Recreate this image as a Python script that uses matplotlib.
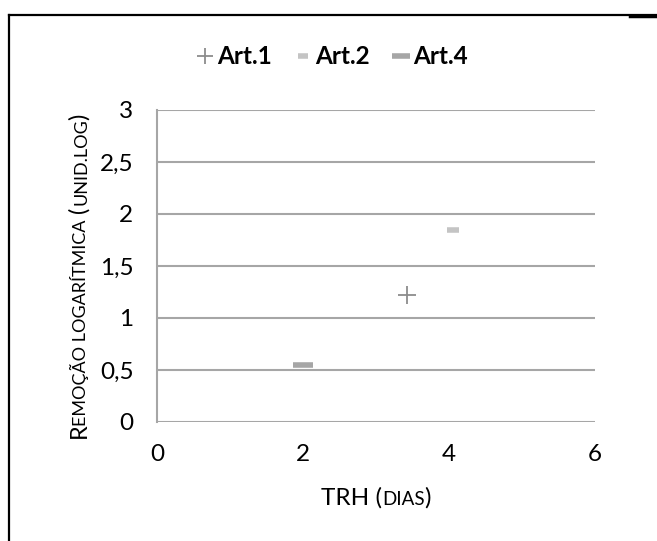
import matplotlib
matplotlib.use("Agg")
import numpy as np
import matplotlib.pyplot as plt
from matplotlib.lines import Line2D
from matplotlib import font_manager
from matplotlib.ft2font import FT2Font

plt.rcParams['font.family'] = ['Lato', 'DejaVu Sans']

series = ["Art.1", "Art.2", "Art.4"]
x_vals = [[3.42], [4.05], [2.0]]
y_vals = [[1.22], [1.85], [0.55]]
x_ticks = [0, 2, 4, 6]
y_ticks = [0, 0.5, 1, 1.5, 2, 2.5, 3]
y_tick_labels = ["0", "0,5", "1", "1,5", "2", "2,5", "3"]

W, H = 657, 541
DPI = 100

# --- helpers for small-caps style labels -------------------------------
font_path = font_manager.findfont(font_manager.FontProperties(family='Lato'))
ft = FT2Font(font_path)

def advance(txt, size):
    ft.set_size(size, DPI)
    total = 0.0
    for c in txt:
        g = ft.load_char(ord(c))
        total += g.linearHoriAdvance / 65536.0
    return total

def ink_start(txt, size, rot):
    """offset (px) of first ink along the writing direction from the anchor"""
    f = plt.figure(figsize=(4, 4), dpi=DPI)
    f.text(0.5, 0.5, txt, fontsize=size, ha='left', va='baseline',
           rotation=rot, rotation_mode='anchor')
    f.canvas.draw()
    a = np.asarray(f.canvas.buffer_rgba())[:, :, 0]
    ys, xs = np.where(a < 160)
    plt.close(f)
    if rot == 0:
        return xs.min() - 200
    return 200 - ys.max()

# -----------------------------------------------------------------------
fig = plt.figure(figsize=(W / DPI, H / DPI), dpi=DPI)
ax = fig.add_axes([157 / W, 1 - 422 / H, (595 - 157) / W, (422 - 110) / H])

grid_c = "#a6a6a6"
ax.set_xlim(0, 6)
ax.set_ylim(0, 3)
ax.set_xticks(x_ticks)
ax.set_yticks(y_ticks)
ax.set_yticklabels(y_tick_labels)
ax.tick_params(length=0, labelsize=17.5)
ax.tick_params(axis='y', pad=17)
ax.tick_params(axis='x', pad=16)
for s in ["top", "right", "bottom"]:
    ax.spines[s].set_visible(False)
ax.spines["left"].set_color(grid_c)
ax.spines["left"].set_linewidth(1.5)
ax.yaxis.grid(True, color=grid_c, linewidth=1.5)
ax.set_axisbelow(True)

styles = [
    dict(marker='+', color='#8c8c8c', markersize=13, markeredgewidth=1.3),
    dict(marker='_', color='#c4c4c4', markersize=8, markeredgewidth=4),
    dict(marker='_', color='#a6a6a6', markersize=14.5, markeredgewidth=4),
]
for name, xs, ys, st in zip(series, x_vals, y_vals, styles):
    ax.plot(xs, ys, linestyle='none', **st)

leg_styles = [
    dict(marker='+', color='#8c8c8c', markersize=12, markeredgewidth=1.3),
    dict(marker='_', color='#c4c4c4', markersize=6.5, markeredgewidth=4),
    dict(marker='_', color='#a6a6a6', markersize=13, markeredgewidth=4),
]
leg_handles = [Line2D([], [], linestyle='none', **st) for st in leg_styles]
leg = fig.legend(leg_handles, series, loc='center', bbox_to_anchor=(331.5 / W, 1 - 57 / H),
                 ncol=3, frameon=False, prop={'weight': 'bold', 'size': 17.5},
                 handlelength=0.8, handletextpad=0.1, columnspacing=0.9)

def draw_pieces(pieces, cx, cy, rotation=0):
    widths = [advance(txt, size) for txt, size in pieces]
    total = sum(widths)
    pos = -total / 2
    for (txt, size), w in zip(pieces, widths):
        corr = 0.0
        if rotation != 0:
            corr = ink_start(txt, size, 0) - ink_start(txt, size, rotation)
        if rotation == 0:
            fig.text((cx + pos) / W, cy / H, txt, fontsize=size, ha='left', va='baseline')
        else:
            fig.text(cx / W, (cy + pos + corr) / H, txt, fontsize=size, ha='left',
                     va='baseline', rotation=90, rotation_mode='anchor')
        pos += w

draw_pieces([("TRH (", 17.5), ("DIAS", 13.5), (")", 17.5)], 376, H - 505)
draw_pieces([("R", 17), ("EMOÇÃO LOGARÍTMICA ", 13), ("(", 17),
             ("UNID.LOG", 13), (")", 17)], 86, H - 277, rotation=90)

# outer frame
fig.add_artist(Line2D([9 / W, 9 / W], [0, 1 - 15 / H], color='black', linewidth=1.6,
                      transform=fig.transFigure))
fig.add_artist(Line2D([9 / W, 1], [1 - 15 / H, 1 - 15 / H], color='black', linewidth=1.6,
                      transform=fig.transFigure))
fig.add_artist(Line2D([630 / W, 1], [1 - 16 / H, 1 - 16 / H], color='black', linewidth=2.5,
                      transform=fig.transFigure))

fig.savefig("out.png", dpi=DPI)
